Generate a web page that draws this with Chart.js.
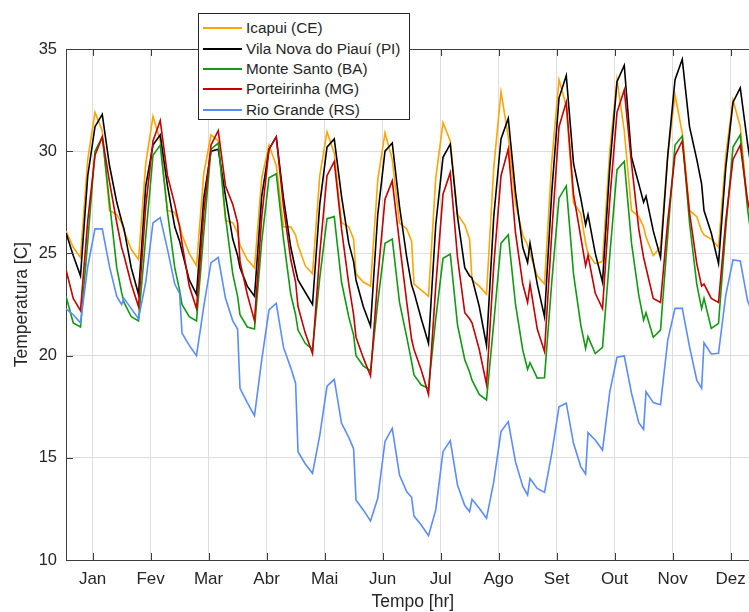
<!DOCTYPE html>
<html><head><meta charset="utf-8">
<script src="https://cdn.jsdelivr.net/npm/chart.js@4"></script>
<style>
html,body{margin:0;padding:0;background:#fff;overflow:hidden;width:749px;height:612px;}
#wrap{position:relative;width:749px;height:612px;overflow:hidden;}
#c{position:absolute;left:0;top:0;}
#legend{position:absolute;left:198px;top:13px;width:212px;height:107px;border:1px solid #262626;background:#fff;font-family:'Liberation Sans',Arial,sans-serif;font-size:15.3px;color:#262626;box-sizing:border-box;}
.row{position:absolute;left:0;height:20px;display:flex;align-items:center;white-space:nowrap;}
.sw{width:39px;height:0;border-top:2px solid;margin-left:4px;margin-right:4px;}
</style></head>
<body><div id="wrap"><canvas id="c" width="775" height="612" style="width:775px;height:612px"></canvas><div id="legend"></div></div>
<script>
// Month labels (x-axis categories, tick at hour 12 of each month)
const months = ['Jan','Fev','Mar','Abr','Mai','Jun','Jul','Ago','Set','Out','Nov','Dez'];
// Hours of each month at which the curves have a vertex
const hourOffsets = [0,3,6,9,12,15,18,21,23];

const seriesNames = ['Icapui (CE)','Vila Nova do Piauí (PI)','Monte Santo (BA)','Porteirinha (MG)','Rio Grande (RS)'];
const seriesColors = ['#FFA500','#000000','#119A11','#C40000','#5B8CFF'];

const icapui = [
 26.1,25.3,24.8,29.6,31.9,31.0,27.1,26.9,26.5,
 26.1,25.2,24.7,29.4,31.7,30.5,27.1,27.0,26.4,
 25.9,25.0,24.4,28.9,30.8,30.5,26.6,26.5,26.0,
 25.4,24.7,24.3,28.7,30.3,29.3,26.3,26.3,25.9,
 25.4,24.4,24.0,28.8,30.95,29.9,26.5,26.3,25.7,
 24.0,23.6,23.4,28.6,30.9,29.6,26.5,26.2,25.6,
 23.5,23.2,22.9,28.7,31.4,30.5,26.9,26.4,25.7,
 23.7,23.4,23.0,29.2,32.9,30.7,27.45,25.9,25.4,
 25.0,23.9,23.5,29.5,33.5,32.2,27.45,26.96,25.5,
 25.0,24.5,24.6,30.0,33.5,31.0,27.1,26.8,26.3,
 25.8,24.9,25.3,29.8,32.75,30.9,27.1,26.8,26.1,
 25.9,25.7,25.3,29.8,32.5,31.2,27.4,26.9,26.5
];
const vilaNova = [
 26.0,24.9,23.9,28.8,31.2,31.8,29.3,27.5,26.6,
 26.2,24.3,23.0,28.3,30.3,30.8,28.3,26.3,25.6,
 25.1,23.7,23.0,27.7,30.0,30.1,27.8,25.7,24.9,
 24.3,23.4,22.9,27.8,30.1,30.7,27.7,25.3,24.2,
 23.7,23.1,22.5,27.4,30.2,30.6,27.8,25.5,24.6,
 23.7,22.4,21.45,26.9,30.0,30.4,27.3,24.8,23.45,
 23.1,21.8,20.6,26.4,29.7,30.35,26.8,24.3,23.9,
 23.8,22.4,20.5,26.8,30.6,31.6,28.0,25.3,24.55,
 25.5,23.5,21.9,28.0,32.6,33.7,29.4,27.7,26.4,
 26.9,25.0,23.6,29.2,33.4,34.2,29.7,28.4,27.5,
 27.8,26.1,24.8,29.8,33.5,34.5,31.2,29.6,28.4,
 27.1,26.0,24.5,29.2,32.4,33.1,30.4,28.0,27.0
];
const monteSanto = [
 22.9,21.6,21.4,25.6,30.0,30.7,27.5,24.3,23.1,
 22.6,21.9,21.7,25.8,29.8,30.3,27.0,24.3,23.2,
 22.5,21.9,21.7,26.0,30.1,30.4,26.8,24.0,22.9,
 22.0,21.4,21.3,25.6,28.7,28.9,25.7,23.0,22.0,
 21.25,20.6,20.3,23.8,26.7,26.8,23.6,21.9,21.0,
 20.0,19.5,19.26,22.6,25.5,25.7,22.6,20.9,19.7,
 19.05,18.56,18.4,21.8,24.76,24.97,21.5,19.8,19.2,
 18.8,18.1,17.83,21.6,25.5,25.9,22.5,20.27,19.33,
 19.65,18.9,18.92,23.6,27.7,28.3,24.0,21.5,20.35,
 20.93,20.1,20.4,24.9,29.1,29.5,25.5,22.96,21.74,
 22.1,20.9,21.25,25.9,30.3,30.74,26.5,23.5,22.3,
 22.8,21.33,21.58,26.2,30.2,30.8,27.2,24.5,23.5
];
const porteirinha = [
 24.2,22.8,22.2,26.6,29.8,30.7,28.5,26.5,25.3,
 24.9,23.5,22.4,27.3,30.5,31.5,28.8,27.4,26.3,
 25.5,23.4,22.3,27.0,30.3,31.0,28.3,27.4,26.5,
 24.6,23.0,21.7,26.8,30.1,30.7,27.3,24.7,23.6,
 22.4,21.1,20.1,25.0,28.8,29.5,26.2,23.5,22.0,
 20.9,19.9,19.0,23.8,27.65,28.55,25.5,22.6,20.8,
 20.3,19.3,18.1,23.4,27.9,28.95,24.8,22.1,21.8,
 21.6,20.3,18.6,24.4,28.8,30.1,26.0,23.5,22.6,
 23.5,21.3,20.2,26.0,31.2,32.4,27.9,25.8,24.4,
 24.9,23.05,22.3,27.6,31.9,33.0,29.4,26.2,24.8,
 24.3,22.8,22.6,26.6,29.8,30.5,27.0,24.5,23.4,
 23.5,22.8,22.6,26.6,29.6,30.3,27.6,26.0,25.0
];
const rioGrande = [
 22.3,22.0,21.6,24.35,26.2,26.2,24.35,22.9,22.5,
 22.8,22.3,21.8,23.6,26.5,26.75,25.2,23.5,23.05,
 21.1,20.5,20.0,22.4,24.55,24.8,22.8,21.7,21.3,
 18.4,17.7,17.06,19.8,22.23,22.56,20.4,19.4,18.65,
 15.3,14.7,14.24,16.1,18.5,18.84,16.7,16.0,15.45,
 12.94,12.45,11.91,13.02,15.8,16.44,14.16,13.34,13.07,
 12.15,11.71,11.19,12.45,15.3,15.84,13.67,12.66,12.37,
 12.97,12.53,12.04,13.83,16.28,16.77,14.8,13.6,13.18,
 13.98,13.5,13.31,15.22,17.5,17.67,15.71,14.57,14.21,
 16.23,15.87,15.38,18.23,19.92,19.98,18.16,16.72,16.39,
 18.23,17.7,17.6,20.76,22.31,22.31,20.44,18.8,18.4,
 20.63,20.08,20.11,22.96,24.68,24.63,22.7,21.8,21.4
];
const yTicks = [10,15,20,25,30,35];

const seriesValues = [icapui, vilaNova, monteSanto, porteirinha, rioGrande];

function toPoints(vals){
  const pts = [];
  for (let m = 0; m < months.length; m++) {
    for (let j = 0; j < hourOffsets.length; j++) {
      pts.push({x: 1 + 24*m + hourOffsets[j], y: vals[m*hourOffsets.length + j]});
    }
  }
  return pts;
}

const FONT = "'Liberation Sans', Arial, Helvetica, sans-serif";
const TXT = '#262626';
const AXIS = '#3c3c3c';

const framePlugin = {
  id: 'frame',
  afterDatasetsDraw(chart){
    const {ctx, chartArea: a, scales: {x, y}} = chart;
    ctx.save();
    ctx.strokeStyle = AXIS;
    ctx.lineWidth = 1;
    ctx.beginPath();
    ctx.moveTo(a.left, Math.round(a.top)+0.5);
    ctx.lineTo(a.right, Math.round(a.top)+0.5);
    x.ticks.forEach(t => {
      const px = Math.round(x.getPixelForValue(t.value)) + 0.5;
      ctx.moveTo(px, a.bottom); ctx.lineTo(px, a.bottom - 7);
      ctx.moveTo(px, a.top); ctx.lineTo(px, a.top + 7);
    });
    y.ticks.forEach(t => {
      const py = Math.round(y.getPixelForValue(t.value)) + 0.5;
      ctx.moveTo(a.left, py); ctx.lineTo(a.left + 7, py);
    });
    ctx.stroke();
    ctx.restore();
  }
};

new Chart(document.getElementById('c'), {
  type: 'line',
  data: {
    datasets: seriesNames.map((name, i) => ({
      label: name,
      data: toPoints(seriesValues[i]),
      borderColor: seriesColors[i],
      backgroundColor: seriesColors[i],
      borderWidth: 1.6,
      pointRadius: 0,
      fill: false,
      tension: 0,
      order: seriesNames.length - i
    }))
  },
  options: {
    responsive: false,
    animation: false,
    layout: { padding: { top: 49, right: 15.4, left: 0, bottom: 0 } },
    plugins: { legend: { display: false }, tooltip: { enabled: false } },
    scales: {
      x: {
        type: 'linear', min: 1, max: 288,
        afterBuildTicks: s => { s.ticks = months.map((m, i) => ({ value: 12 + 24*i })); },
        afterFit: s => { s.height = 52; },
        ticks: { callback: (v, i) => months[i], font: { family: FONT, size: 17 }, color: TXT, padding: 9, maxRotation: 0, autoSkip: false },
        grid: { color: '#dedede', lineWidth: 1, drawTicks: false },
        border: { color: AXIS, width: 1 },
        title: { display: true, text: 'Tempo [hr]', font: { family: FONT, size: 17.5 }, color: TXT, padding: { top: 0, bottom: -1 } }
      },
      y: {
        min: 10, max: 35,
        afterBuildTicks: s => { s.ticks = yTicks.map(v => ({ value: v })); },
        afterFit: s => { s.width = 66; },
        ticks: { font: { family: FONT, size: 16.5 }, color: TXT, padding: 9 },
        grid: { color: '#dedede', lineWidth: 1, drawTicks: false },
        border: { color: AXIS, width: 1 },
        title: { display: true, text: 'Temperatura [C]', font: { family: FONT, size: 17.5 }, color: TXT, padding: { top: 12, bottom: 0 } }
      }
    }
  },
  plugins: [framePlugin]
});

// Legend (built from the series names and colours)
const lg = document.getElementById('legend');
seriesNames.forEach((name, i) => {
  const r = document.createElement('div');
  r.className = 'row';
  r.style.top = (4.3 + 20.3*i) + 'px';
  const sw = document.createElement('span');
  sw.className = 'sw';
  sw.style.borderTopColor = seriesColors[i];
  const tx = document.createElement('span');
  tx.textContent = name;
  r.appendChild(sw); r.appendChild(tx);
  lg.appendChild(r);
});
</script>
</body></html>
